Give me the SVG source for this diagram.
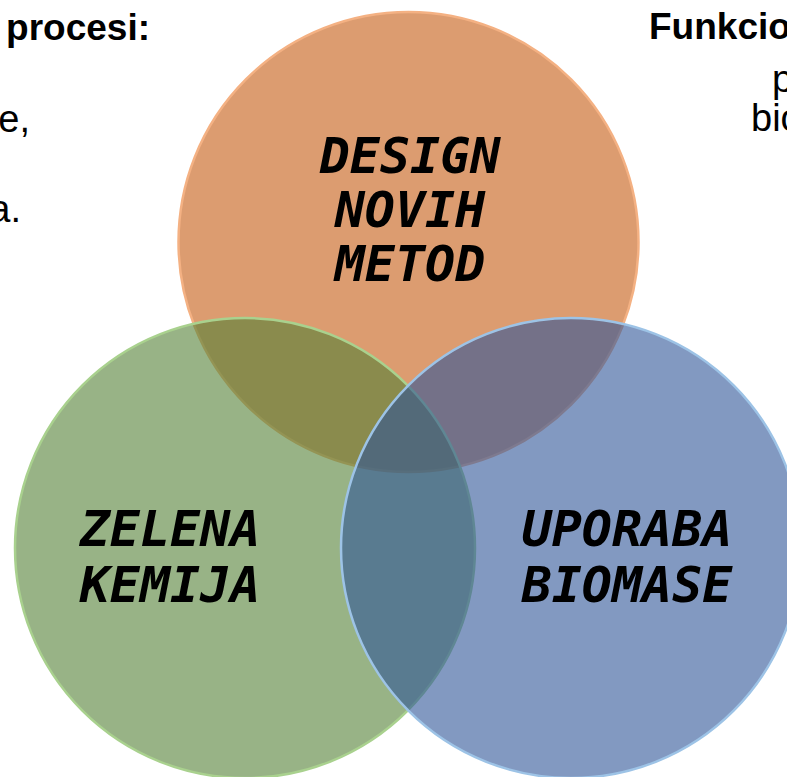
<svg xmlns="http://www.w3.org/2000/svg" width="787" height="777" viewBox="0 0 787 777">
  <style>
    .circ { fill-opacity: 0.6; stroke-width: 2.5; }
    .lbl { font-family: "DejaVu Sans Mono", "Liberation Mono", monospace; font-weight: bold; font-style: italic; font-size: 50px; fill: #000; text-anchor: middle; }
    .side { font-family: "Liberation Sans", Arial, sans-serif; fill: #000; }
    .bold { font-weight: bold; font-size: 37px; }
    .reg { font-size: 38px; }
  </style>
  <rect width="787" height="777" fill="#ffffff"/>
  <g id="side-text">
    <text class="side bold" x="150" y="40" text-anchor="end">procesi:</text>
    <text class="side reg" x="30" y="132" text-anchor="end">e,</text>
    <text class="side reg" x="21" y="222" text-anchor="end">a.</text>
    <text class="side bold" x="649" y="39">Funkcio</text>
    <text class="side reg" x="772" y="92">p</text>
    <text class="side reg" x="751" y="131">bio</text>
  </g>
  <g id="design-novih-metod">
    <circle class="circ" cx="408.5" cy="242" r="230" fill="#C55A11" stroke="#F4B183"/>
  </g>
  <g id="zelena-kemija">
    <circle class="circ" cx="245" cy="548" r="230" fill="#538135" stroke="#A9D18E"/>
  </g>
  <g id="uporaba-biomase">
    <circle class="circ" cx="571" cy="548" r="230" fill="#2F5597" stroke="#9DC3E6"/>
  </g>
  <g id="labels">
    <text class="lbl" x="410" y="173">DESIGN</text>
    <text class="lbl" x="410" y="227">NOVIH</text>
    <text class="lbl" x="410" y="281">METOD</text>
    <text class="lbl" x="170" y="546">ZELENA</text>
    <text class="lbl" x="170" y="602">KEMIJA</text>
    <text class="lbl" x="627" y="546">UPORABA</text>
    <text class="lbl" x="627" y="602">BIOMASE</text>
  </g>
  <g id="connectors"></g>
</svg>
